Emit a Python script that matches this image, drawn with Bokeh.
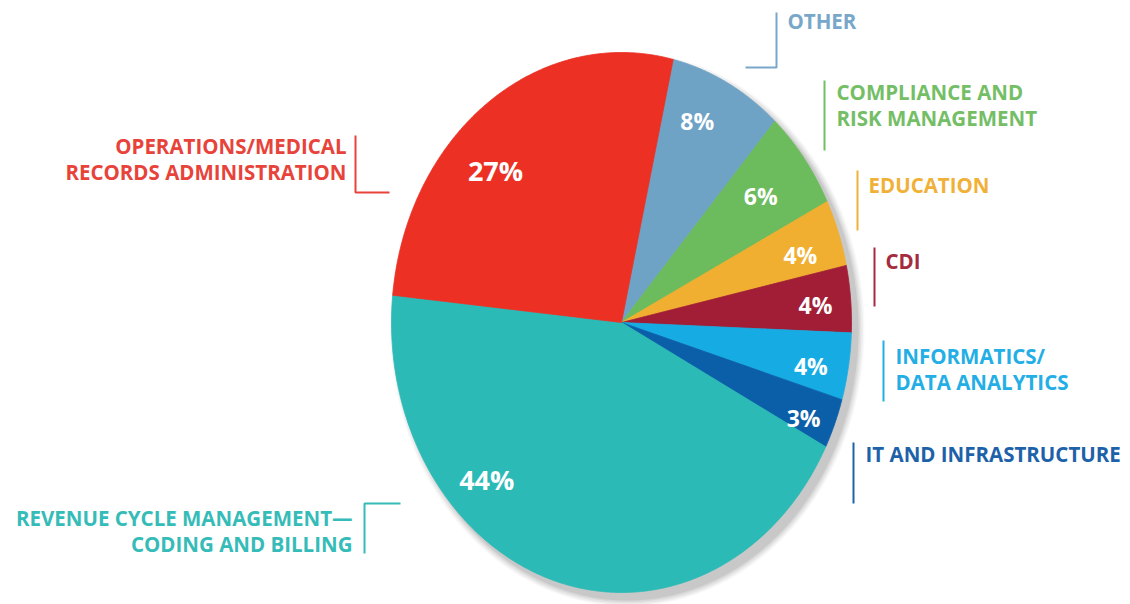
import numpy as np
from bokeh.plotting import figure
from bokeh.models import Range1d, ColumnDataSource
from bokeh.core.properties import value
from bokeh.embed import file_html
from bokeh.resources import INLINE

# ---- data (clockwise from top) ----
categories = ["OTHER", "COMPLIANCE AND\nRISK MANAGEMENT", "EDUCATION", "CDI",
              "INFORMATICS/\nDATA ANALYTICS", "IT AND INFRASTRUCTURE",
              "REVENUE CYCLE MANAGEMENT\u2014\nCODING AND BILLING",
              "OPERATIONS/MEDICAL\nRECORDS ADMINISTRATION"]
shares = [8, 6, 4, 4, 4, 3, 44, 27]
pct_labels = ["8%", "6%", "4%", "4%", "4%", "3%", "44%", "27%"]

# ---- styles ----
slice_colors = ["#6FA3C6", "#6CBC5D", "#F0AF30", "#A11E36", "#16ACE3", "#0B5FA9", "#2BBAB6", "#EC3024"]
label_colors = ["#78A7CA", "#74BE66", "#F0B139", "#A52B3E", "#23AEE5", "#1D62A9", "#35BCB8", "#E8433A"]

# ---- layout (page pixel coordinates) ----
CX, CY, RX, RY = 621, 322, 230, 270
START_DEG = 13.0
pct_pos = [(24, 0.81), (52.8, 0.76), (72.6, 0.815), (86.2, 0.845),
           (101.5, 0.84), (114.5, 0.87), (224.9, 0.83), (315.4, 0.78)]
pct_sizes = ["23px"] * 6 + ["27px", "27px"]
# label text anchors: (x, first line vertical centre y, align)
label_pos = [(787, 20, "left"), (836, 91, "left"), (868, 184, "left"), (885, 260, "left"),
             (895, 355, "left"), (865, 453, "left"), (352, 517, "right"), (346, 145, "right")]
LINE_GAP = 26
bracket_xs = [[745, 776, 776], [824, 824], [857, 857], [874, 874], [883, 883], [853, 853],
              [400, 364, 364], [355, 355, 389]]
bracket_ys = [[67, 67, 12], [80, 150], [170, 230], [247, 306], [340, 401], [442, 503],
              [503, 503, 553], [135, 192, 192]]

W, H = 1130, 604
p = figure(width=W, height=H, output_backend="svg", toolbar_location=None,
           x_range=Range1d(0, W), y_range=Range1d(H, 0),
           min_border=0, outline_line_color=None)
p.axis.visible = False
p.grid.visible = False
p.background_fill_color = "white"
p.border_fill_color = "white"

# soft drop shadow
for i, a in enumerate([0.04, 0.05, 0.06, 0.08, 0.10]):
    grow = 14 - 3 * i
    p.ellipse(x=CX + 6, y=CY + 7, width=2 * RX + grow, height=2 * RY + grow,
              fill_color="#444444", fill_alpha=a, line_color=None)

# slices
total = float(sum(shares))
xs, ys = [], []
cum = START_DEG
for s in shares:
    sweep = s / total * 360.0
    th = np.radians(np.linspace(cum, cum + sweep, max(int(sweep * 2), 8)))
    xs.append([CX] + list(CX + RX * np.sin(th)) + [CX])
    ys.append([CY] + list(CY - RY * np.cos(th)) + [CY])
    cum += sweep
p.patches(xs=xs, ys=ys, fill_color=slice_colors, line_color=slice_colors, line_width=0.8)

# percent labels
px = [CX + RX * r * np.sin(np.radians(a)) for a, r in pct_pos]
py = [CY - RY * r * np.cos(np.radians(a)) - 2 for a, r in pct_pos]
src = ColumnDataSource(dict(x=px, y=py, t=pct_labels, s=pct_sizes))
p.text(x="x", y="y", text="t", source=src, text_color="white", text_font=value("Open Sans"),
       text_font_style="bold", text_font_size="s", text_align="center", text_baseline="middle")

# bracket lines
p.multi_line(xs=bracket_xs, ys=bracket_ys, line_color=label_colors, line_width=2)

# category labels
tx, ty, tt, tc, ta = [], [], [], [], []
for cat, (x0, y0, al), col in zip(categories, label_pos, label_colors):
    for k, line in enumerate(cat.split("\n")):
        tx.append(x0); ty.append(y0 + k * LINE_GAP); tt.append(line); tc.append(col); ta.append(al)
lsrc = ColumnDataSource(dict(x=tx, y=ty, t=tt, c=tc, a=ta))
p.text(x="x", y="y", text="t", source=lsrc, text_color="c", text_align="a",
       text_font=value("Open Sans"), text_font_style="bold", text_font_size="20.5px",
       text_baseline="middle")

open("out.html", "w").write(file_html(p, INLINE))
